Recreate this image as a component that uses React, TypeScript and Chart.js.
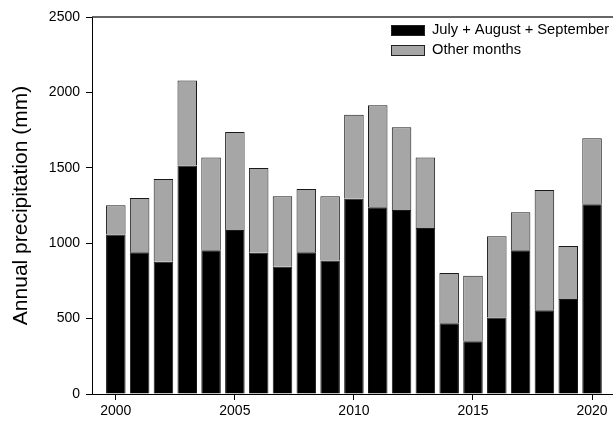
import React, { useEffect, useRef } from "react";
import { Chart, registerables } from "chart.js";

Chart.register(...registerables);

const years = [2000, 2001, 2002, 2003, 2004, 2005, 2006, 2007, 2008, 2009, 2010, 2011, 2012, 2013, 2014, 2015, 2016, 2017, 2018, 2019, 2020];
const julAugSep = [1057, 940, 877, 1515, 954, 1088, 936, 844, 940, 885, 1295, 1238, 1220, 1101, 469, 350, 507, 954, 555, 630, 1258];
const otherMonths = [194, 360, 548, 564, 614, 650, 562, 467, 419, 426, 557, 676, 549, 467, 333, 434, 539, 251, 797, 352, 438];
const xTickLabels = [2000, 2005, 2010, 2015, 2020];
const seriesLabels = ["July + August + September", "Other months"];
const yTitle = "Annual precipitation (mm)";

const FONT = '"Liberation Sans", Arial, sans-serif';

const insideLegend = {
  id: "insideLegend",
  afterDraw(chart: any) {
    const { ctx, chartArea } = chart;
    ctx.save();
    chart.data.datasets.forEach((ds: any, i: number) => {
      const bx = chartArea.left + 299;
      const by = chartArea.top + 8 + i * 20;
      ctx.fillStyle = ds.backgroundColor;
      ctx.fillRect(bx, by, 33, 10);
      ctx.strokeStyle = "#222";
      ctx.lineWidth = 1;
      ctx.strokeRect(bx + 0.5, by + 0.5, 33, 10);
      ctx.fillStyle = "#000";
      ctx.font = "14.7px " + FONT;
      ctx.textBaseline = "middle";
      ctx.textAlign = "left";
      ctx.fillText(ds.label, bx + 41, by + 5);
    });
    ctx.restore();
  },
};

const topLine = {
  id: "topLine",
  afterDraw(chart: any) {
    const { ctx, chartArea } = chart;
    ctx.save();
    ctx.strokeStyle = "#333";
    ctx.lineWidth = 1.5;
    ctx.beginPath();
    ctx.moveTo(chartArea.left, chartArea.top);
    ctx.lineTo(chartArea.right, chartArea.top);
    ctx.stroke();
    ctx.restore();
  },
};

export default function App() {
  const ref = useRef<HTMLCanvasElement | null>(null);

  useEffect(() => {
    if (!ref.current) return;
    Chart.defaults.color = "#000";
    Chart.defaults.font.family = FONT;
    const chart = new Chart(ref.current, {
      type: "bar",
      data: {
        datasets: [
          {
            label: seriesLabels[0],
            data: years.map((y, i) => ({ x: y, y: julAugSep[i] })),
            backgroundColor: "#000000",
            borderColor: "#1a1a1a",
            borderWidth: 1,
          },
          {
            label: seriesLabels[1],
            data: years.map((y, i) => ({ x: y, y: otherMonths[i] })),
            backgroundColor: "#a6a6a6",
            borderColor: "#1a1a1a",
            borderWidth: 1,
          },
        ],
      },
      options: {
        animation: false,
        responsive: true,
        maintainAspectRatio: false,
        layout: { padding: { top: 17, right: 0, left: 0, bottom: 0 } },
        datasets: { bar: { categoryPercentage: 1, barPercentage: 0.82 } },
        plugins: { legend: { display: false }, tooltip: { enabled: false } },
        scales: {
          x: {
            type: "linear",
            stacked: true,
            min: 1999,
            max: 2020.88,
            offset: false,
            afterBuildTicks: (scale: any) => {
              scale.ticks = xTickLabels.map((v) => ({ value: v }));
            },
            afterFit: (scale: any) => {
              scale.height = 28;
            },
            ticks: {
              font: { size: 14 },
              color: "#000",
              padding: 3,
              maxRotation: 0,
              callback: (v: any) => String(v),
            },
            grid: { drawOnChartArea: false, drawTicks: true, tickLength: 6, color: "#000", offset: false },
            border: { display: true, color: "#000", width: 1 },
          },
          y: {
            stacked: true,
            min: 0,
            max: 2500,
            ticks: { stepSize: 500, font: { size: 14 }, color: "#000", padding: 6, callback: (v: any) => String(v) },
            afterFit: (scale: any) => {
              scale.width = 92;
            },
            grid: { drawOnChartArea: false, drawTicks: true, tickLength: 6, color: "#000" },
            border: { display: true, color: "#000", width: 1 },
            title: {
              display: true,
              text: yTitle,
              font: { size: 21 },
              color: "#000",
              padding: { top: 9, bottom: 4 },
            },
          },
        },
      },
      plugins: [insideLegend, topLine],
    } as any);
    return () => chart.destroy();
  }, []);

  return (
    <div style={{ position: "absolute", left: 0, top: 0, width: 613, height: 422, background: "#fff" }}>
      <canvas ref={ref} />
    </div>
  );
}
